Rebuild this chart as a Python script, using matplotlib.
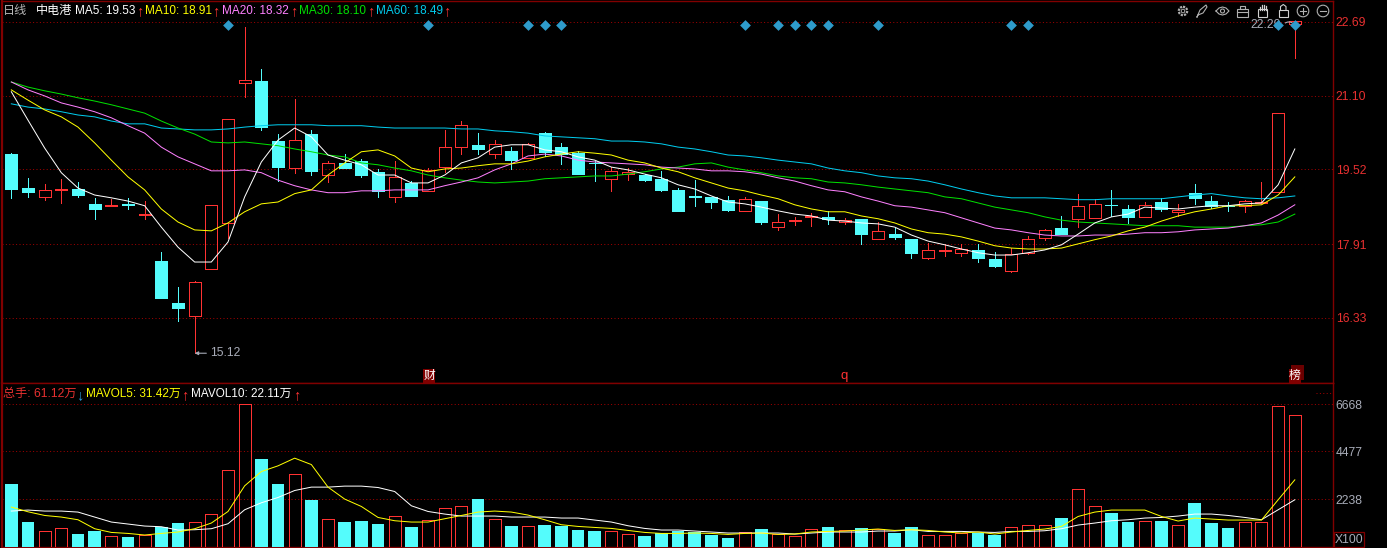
import numpy as np
import matplotlib
matplotlib.use("Agg")
import matplotlib.pyplot as plt
from matplotlib.patches import Rectangle, Circle, FancyBboxPatch

plt.rcParams['font.family'] = ['Liberation Sans', 'Noto Sans CJK SC', 'DejaVu Sans']

# daily candles
opens = [19.85,19.12,18.93,19.08,19.10,18.78,18.74,18.78,18.54,17.55,16.65,16.36,17.37,18.37,21.37,21.42,20.13,19.56,20.28,19.39,
         19.66,19.70,19.47,18.93,19.23,19.06,19.57,20.00,20.05,19.85,19.92,19.77,20.30,20.00,19.87,19.66,19.32,19.42,19.40,19.32,
         19.08,18.95,18.93,18.87,18.63,18.84,18.28,18.41,18.50,18.50,18.39,18.46,18.03,18.13,18.03,17.62,17.77,17.73,17.79,17.60,
         17.34,17.73,18.05,18.26,18.46,18.48,18.76,18.67,18.50,18.82,18.61,19.02,18.84,18.74,18.74,18.80,19.04,22.65]
closes = [19.10,19.04,19.08,19.10,18.97,18.67,18.76,18.76,18.56,16.76,16.54,17.09,18.76,20.61,21.44,20.43,19.57,20.15,19.49,19.65,
          19.55,19.40,19.06,19.36,18.95,19.51,20.00,20.48,19.96,20.07,19.72,20.07,19.90,19.85,19.42,19.65,19.49,19.47,19.29,19.08,
          18.63,18.93,18.82,18.65,18.89,18.39,18.39,18.43,18.52,18.46,18.43,18.13,18.20,18.07,17.73,17.79,17.79,17.81,17.62,17.45,
          17.70,18.03,18.22,18.13,18.74,18.78,18.75,18.50,18.76,18.67,18.65,18.91,18.74,18.73,18.84,18.82,20.73,22.71]
highs = [19.88,19.34,19.21,19.32,19.25,18.91,18.89,18.91,18.84,17.75,16.99,17.12,18.76,20.61,22.58,21.68,20.28,21.04,20.37,19.70,
         19.85,19.75,19.53,19.70,19.27,19.55,20.37,20.56,20.30,20.15,20.00,20.09,20.33,20.09,19.92,19.70,19.57,19.55,19.42,19.49,
         19.12,19.29,18.93,18.95,18.93,18.84,18.56,18.50,18.59,18.63,18.48,18.46,18.39,18.26,18.03,17.94,17.92,17.92,17.92,17.75,
         17.83,18.09,18.24,18.52,19.00,18.89,19.08,18.76,18.82,18.91,18.78,19.21,18.95,18.82,18.87,19.25,20.73,22.71]
lows = [18.91,18.93,18.87,18.80,18.93,18.46,18.74,18.67,18.46,16.76,16.26,15.57,17.37,18.05,21.08,20.37,19.27,19.45,19.40,19.25,
        19.55,19.36,18.93,18.82,18.95,19.06,19.47,19.85,19.85,19.77,19.53,19.77,19.81,19.64,19.42,19.27,19.06,19.29,19.27,19.06,
        18.63,18.74,18.69,18.63,18.63,18.35,18.22,18.33,18.31,18.35,18.35,17.92,18.03,18.03,17.62,17.60,17.66,17.66,17.53,17.43,
        17.32,17.70,18.01,18.13,18.29,18.48,18.52,18.37,18.50,18.63,18.52,18.78,18.69,18.63,18.61,18.80,19.04,21.92]

ma5 = [21.19,20.58,19.98,19.45,19.12,18.97,18.91,18.84,18.74,18.28,17.85,17.53,17.53,17.96,18.93,19.68,20.15,20.41,20.22,19.83,
       19.72,19.62,19.40,19.40,19.23,19.23,19.40,19.66,19.77,20.00,20.05,20.05,19.94,19.90,19.79,19.72,19.57,19.51,19.42,19.34,
       19.19,19.10,18.95,18.82,18.78,18.71,18.63,18.56,18.52,18.43,18.41,18.37,18.35,18.28,18.11,17.98,17.90,17.81,17.73,17.68,
       17.68,17.73,17.79,17.90,18.13,18.37,18.50,18.56,18.71,18.69,18.67,18.71,18.74,18.74,18.78,18.80,19.19,19.96]
ma10 = [21.23,21.01,20.80,20.65,20.43,20.09,19.72,19.36,19.08,18.67,18.39,18.22,18.20,18.37,18.61,18.78,18.82,19.00,19.08,19.40,
        19.66,19.90,19.94,19.81,19.55,19.47,19.53,19.55,19.60,19.64,19.64,19.70,19.79,19.85,19.90,19.87,19.83,19.72,19.66,19.55,
        19.47,19.34,19.23,19.12,19.06,18.97,18.89,18.76,18.67,18.61,18.61,18.52,18.46,18.37,18.24,18.16,18.13,18.07,17.98,17.88,
        17.83,17.81,17.81,17.83,17.92,18.01,18.09,18.20,18.28,18.41,18.52,18.61,18.67,18.74,18.74,18.76,18.97,19.36]
ma20 = [21.40,21.23,21.10,20.95,20.86,20.76,20.63,20.46,20.30,20.00,19.79,19.64,19.49,19.49,19.51,19.45,19.29,19.17,19.08,19.02,
        19.02,19.06,19.06,19.08,19.08,19.08,19.17,19.25,19.34,19.51,19.64,19.81,19.85,19.81,19.72,19.68,19.66,19.64,19.62,19.57,
        19.55,19.53,19.49,19.49,19.47,19.42,19.34,19.27,19.17,19.08,19.04,18.93,18.84,18.74,18.71,18.65,18.59,18.48,18.37,18.26,
        18.22,18.16,18.11,18.09,18.09,18.11,18.11,18.13,18.16,18.16,18.18,18.22,18.24,18.26,18.31,18.37,18.54,18.76]
ma30 = [21.40,21.29,21.21,21.14,21.06,20.99,20.91,20.82,20.73,20.56,20.41,20.28,20.11,20.09,20.11,20.07,20.03,19.96,19.90,19.83,
        19.79,19.66,19.62,19.55,19.49,19.40,19.34,19.29,19.25,19.23,19.25,19.27,19.32,19.34,19.36,19.38,19.38,19.42,19.47,19.53,
        19.57,19.64,19.66,19.57,19.51,19.45,19.38,19.34,19.32,19.25,19.23,19.19,19.14,19.10,19.06,19.02,18.93,18.89,18.80,18.71,
        18.65,18.59,18.50,18.43,18.39,18.37,18.35,18.33,18.31,18.31,18.31,18.28,18.28,18.28,18.31,18.33,18.39,18.56]
ma60 = [20.93,20.86,20.82,20.76,20.69,20.65,20.56,20.50,20.50,20.41,20.39,20.37,20.37,20.39,20.43,20.46,20.48,20.48,20.48,20.46,
        20.46,20.46,20.43,20.41,20.41,20.41,20.41,20.39,20.39,20.35,20.33,20.30,20.24,20.22,20.20,20.18,20.13,20.13,20.11,20.07,
        20.00,19.96,19.90,19.83,19.81,19.77,19.72,19.68,19.64,19.55,19.49,19.45,19.38,19.34,19.32,19.27,19.19,19.10,19.02,18.95,
        18.91,18.91,18.91,18.89,18.87,18.87,18.89,18.89,18.89,18.89,18.93,18.97,19.00,18.95,18.91,18.89,18.91,18.95]

volume = [2952,1180,746,886,620,760,513,480,574,933,1133,1166,1539,3591,6670,4118,2952,3433,2206,1306,
          1180,1227,1087,1446,947,1259,1819,1912,2253,1306,993,979,1040,993,807,760,746,606,527,653,
          760,714,574,434,700,854,606,513,840,947,793,900,840,667,947,574,560,653,653,574,
          933,1026,1026,1367,2705,1912,1600,1180,1213,1227,1026,2066,1133,900,1166,1166,6576,6156]
mavol5 = [1866,1646,1474,1399,1273,854,681,634,560,634,700,854,1119,1660,2859,3526,3792,4151,3852,2798,
          2239,1894,1381,1227,1166,1166,1320,1474,1632,1679,1632,1492,1273,1040,961,914,868,774,681,634,
          634,653,634,588,634,653,588,606,700,728,746,793,840,774,807,774,700,653,700,606,
          700,774,840,961,1427,1632,1726,1726,1726,1427,1213,1353,1306,1259,1259,1259,2206,3139]
mavol10 = [1679,1726,1679,1679,1632,1399,1166,1073,979,947,793,807,854,1087,1740,2066,2313,2640,2798,2798,
           2845,2845,2780,2593,1926,1660,1539,1446,1446,1446,1399,1399,1399,1353,1353,1259,1166,993,868,793,
           793,746,700,653,653,653,653,606,653,700,700,700,746,746,807,728,728,728,700,681,
           728,728,760,854,1026,1119,1227,1273,1353,1381,1446,1539,1539,1474,1381,1273,1740,2206]

price_ticks = [22.69, 21.10, 19.52, 17.91, 16.33]
price_labels = ['22.69', '21.10', '19.52', '17.91', '16.33']
vol_ticks = [6668, 4477, 2238]
vol_labels = ['6668', '4477', '2238']
signal_days = [13, 25, 31, 32, 33, 44, 46, 47, 48, 49, 52, 60, 61, 76, 77]

RED = '#FF3232'
CYAN = '#54FCFC'
GRID = '#A00000'
EDGE = '#800000'
GREY = '#A8ACB8'
W, H = 1387, 548

fig = plt.figure(figsize=(W / 100, H / 100), dpi=100, facecolor='black')
ax = fig.add_axes([2 / W, 1 - 383 / H, 1331 / W, 382 / H], facecolor='black')
ax2 = fig.add_axes([2 / W, 1 - 547 / H, 1331 / W, 164 / H], facecolor='black')

x = np.arange(len(opens))
o, c, h, l = map(np.array, (opens, closes, highs, lows))
up = c >= o
top = np.maximum(o, c)
bot = np.minimum(o, c)

# wicks stop at the body so the red candles stay hollow
ax.vlines(x[up], top[up], h[up], color=RED, lw=0.72, antialiased=False, zorder=2)
ax.vlines(x[up], l[up], bot[up], color=RED, lw=0.72, antialiased=False, zorder=2)
ax.vlines(x[~up], l[~up], h[~up], color=CYAN, lw=0.72, antialiased=False, zorder=2)
ax.bar(x[up], (top - bot)[up], bottom=bot[up], width=0.72, facecolor='none', edgecolor=RED,
       lw=0.72, antialiased=False, zorder=3)
ax.bar(x[~up], (top - bot)[~up], bottom=bot[~up], width=0.72, facecolor=CYAN, edgecolor=CYAN,
       lw=0.72, antialiased=False, zorder=3)

ax.plot(x, ma60, color='#00CCEE', lw=0.72, zorder=4)
ax.plot(x, ma30, color='#00E000', lw=0.72, zorder=4)
ax.plot(x, ma20, color='#FF80FF', lw=0.72, zorder=4)
ax.plot(x, ma10, color='#FFFF00', lw=0.72, zorder=5)
ax.plot(x, ma5, color='white', lw=0.72, zorder=6)

ax.scatter(signal_days, [22.63] * len(signal_days), marker='D', s=30, color='#2E9BCB', lw=0, zorder=8)

ax.annotate('15.12', xy=(11, 15.57), xytext=(11.95, 15.57), color=GREY, fontsize=8.7, va='center',
            arrowprops=dict(arrowstyle='-|>', color=GREY, lw=0.8, mutation_scale=5, shrinkA=1, shrinkB=0))
ax.text(76.15, 22.63, '22.29', color=GREY, fontsize=8.7, va='center', ha='right', zorder=7)
ax.annotate('', xy=(76.98, 22.63), xytext=(76.3, 22.63),
            arrowprops=dict(arrowstyle='-', color=GREY, lw=0.8, connectionstyle='arc3,rad=-0.5'))

ax.set_xlim(-0.558, 79.29)
ax.set_ylim(14.93, 23.14)
ax.set_yticks(price_ticks)
ax.set_yticklabels(price_labels, color='#E83030', fontsize=8.7)

vol = np.array(volume)
ax2.bar(x[up], vol[up], width=0.72, facecolor='none', edgecolor=RED, lw=0.72,
        antialiased=False, zorder=3)
ax2.bar(x[~up], vol[~up], width=0.76, facecolor=CYAN, edgecolor='none',
        antialiased=False, zorder=3)
ax2.plot(x, mavol10, color='white', lw=0.72, zorder=4)
ax2.plot(x, mavol5, color='#FFFF00', lw=0.72, zorder=5)

ax2.set_xlim(-0.558, 79.29)
ax2.set_ylim(0, 7663)
ax2.set_yticks(vol_ticks)
ax2.set_yticklabels(vol_labels, color=GREY, fontsize=8.7)

for a in (ax, ax2):
    a.set_xticks([])
    a.yaxis.tick_right()
    a.tick_params(axis='y', length=0, pad=2)
    a.grid(axis='y', color=GRID, lw=0.72, linestyle=(0, (1, 2.4)), zorder=1)
    a.set_axisbelow(True)
    for side in a.spines.values():
        side.set_color(EDGE)
        side.set_linewidth(1.0)
ax.spines['left'].set_linewidth(1.6)
ax2.spines['left'].set_linewidth(1.6)

# header text, flags and toolbar live on a pixel overlay
ov = fig.add_axes([0, 0, 1, 1], facecolor='none')
ov.set_xlim(0, W)
ov.set_ylim(H, 0)
ov.axis('off')


def label(px, py, s, color, size=8.5, **kw):
    ov.text(px, py, s, color=color, fontsize=size, va='center', ha=kw.pop('ha', 'left'), **kw)


label(3, 11, '日线', '#B8B8B8', size=8.7)
label(36, 11, '中电港', 'white', size=8.7)
label(75, 11, 'MA5: 19.53', 'white')
label(136.5, 11, '↑', RED, size=10.5)
label(145, 11, 'MA10: 18.91', '#FFFF00')
label(212.5, 11, '↑', RED, size=10.5)
label(222, 11, 'MA20: 18.32', '#FF80FF')
label(290, 11, '↑', RED, size=10.5)
label(299, 11, 'MA30: 18.10', '#00E000')
label(367, 11, '↑', RED, size=10.5)
label(376, 11, 'MA60: 18.49', '#00CCEE')
label(443.5, 11, '↑', RED, size=10.5)

label(3, 394, '总手: 61.12万', '#E83030', size=8.7)
label(76.5, 395, '↓', '#2E9BE0', size=10.5)
label(86, 394, 'MAVOL5: 31.42万', '#FFFF00')
label(181.5, 395, '↑', RED, size=10.5)
label(191, 394, 'MAVOL10: 22.11万', 'white')
label(293.5, 395, '↑', RED, size=10.5)

# flags above the volume panel
ov.add_patch(Rectangle((423, 369), 12, 14, color='#800000', lw=0))
label(429, 376, '财', 'white', size=8.5, ha='center')
label(844, 376, 'q', RED, size=9.5, ha='center')
ov.add_patch(Rectangle((1291, 365), 13, 15, color='#6A0000', lw=0))
ov.add_patch(Rectangle((1289, 369), 12, 14, color='#800000', lw=0))
label(1295, 376, '榜', 'white', size=8.5, ha='center')
ov.plot([1316, 1332], [393, 393], color=GRID, lw=0.72, linestyle=(0, (1, 2.4)))

# X100 box
ov.add_patch(Rectangle((1333.5, 532), 30, 15, facecolor='none', edgecolor=EDGE, lw=0.9))
label(1349, 540, 'X100', GREY, size=8.7, ha='center')

# toolbar icons
ICON = '#B0B0B0'
ov.add_patch(Circle((1183, 11), 4.2, fill=False, edgecolor=ICON, lw=1.6, linestyle=(0, (1, 0.5))))
ov.add_patch(Circle((1183, 11), 1.8, fill=False, edgecolor=ICON, lw=0.7))
ov.plot([1197, 1200, 1206, 1207, 1203, 1198, 1197], [17, 10, 5, 7, 13, 15, 17], color=ICON, lw=0.8)
ov.plot([1216, 1219, 1222.5, 1226, 1229, 1226, 1222.5, 1219, 1216], [11, 8, 7, 8, 11, 14, 15, 14, 11], color=ICON, lw=0.8)
ov.add_patch(Circle((1222.5, 11), 2, fill=False, edgecolor=ICON, lw=0.8))
ov.add_patch(Rectangle((1237, 9), 11, 8, fill=False, edgecolor=ICON, lw=0.8))
ov.add_patch(Rectangle((1240, 6), 5, 3, fill=False, edgecolor=ICON, lw=0.8))
ov.plot([1237, 1248], [12, 12], color=ICON, lw=0.8)
ov.add_patch(FancyBboxPatch((1259, 10), 8, 7, boxstyle='round,pad=0.5', fill=False, edgecolor='#D0D0D0', lw=0.8))
for fx, ft in zip([1259.5, 1261.5, 1263.5, 1265.5], [7, 5, 4.5, 6]):
    ov.plot([fx, fx], [10, ft], color='#D0D0D0', lw=0.9)
ov.add_patch(Rectangle((1278.5, 10), 9.5, 7, fill=False, edgecolor='#D0D0D0', lw=0.8))
ov.plot([1280.5, 1280.5, 1283.3, 1286, 1286], [10, 6.5, 4.5, 6.5, 10], color='#D0D0D0', lw=0.8)
ov.add_patch(Circle((1303, 11), 5.8, fill=False, edgecolor=ICON, lw=0.8))
ov.plot([1300, 1306], [11, 11], color=ICON, lw=0.8)
ov.plot([1303, 1303], [8, 14], color=ICON, lw=0.8)
ov.add_patch(Circle((1323, 11), 5.8, fill=False, edgecolor=ICON, lw=0.8))
ov.plot([1320, 1326], [11, 11], color=ICON, lw=0.8)

fig.savefig('out.png', dpi=100, facecolor='black')
